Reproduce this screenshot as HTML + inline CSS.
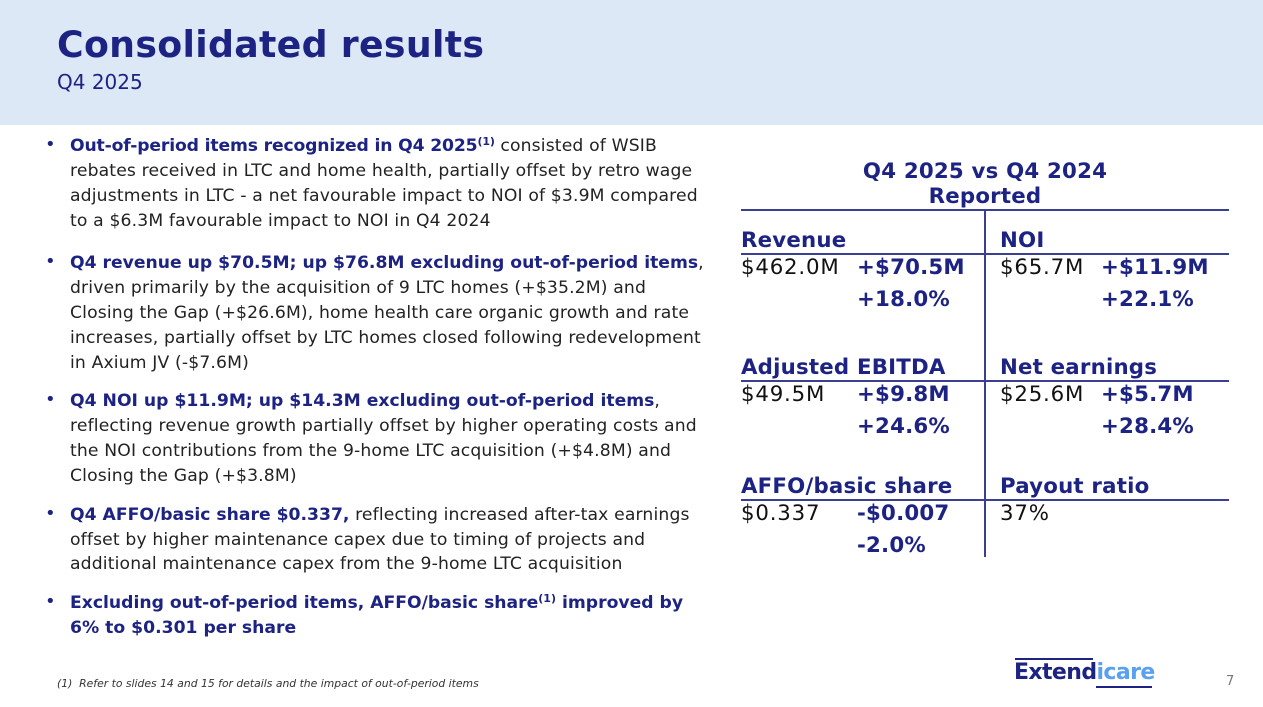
<!DOCTYPE html>
<html><head><meta charset="utf-8"><style>
body{margin:0;width:1263px;height:707px;position:relative;background:#fff;font-family:"DejaVu Sans","Liberation Sans",sans-serif;overflow:hidden}
.hdr{position:absolute;left:0;top:0;width:1263px;height:125px;background:#dde8f6}
.t{position:absolute;left:57px;top:23px;font-size:36.3px;font-weight:bold;color:#1d2382;white-space:nowrap;letter-spacing:0.3px}
.st{position:absolute;left:57px;top:70px;font-size:20px;color:#1d2382}
.l{position:absolute;left:70px;font-size:17.2px;color:#222;white-space:nowrap;line-height:20px;letter-spacing:0.15px}
.b{color:#1d2382;font-weight:bold;letter-spacing:0}
.d{position:absolute;left:45px;font-size:18px;color:#1d2382}
sup{font-size:11px;vertical-align:6px;line-height:0}
.x{position:absolute;font-size:21.3px;white-space:nowrap;line-height:24px;color:#111;letter-spacing:0.8px}
.h{color:#1d2382;font-weight:bold;letter-spacing:0.2px}
.hl{position:absolute;height:2px;background:#3a3f91;left:741px;width:488px}
</style></head><body>
<div class="hdr"></div>
<div class="t">Consolidated results</div>
<div class="st">Q4 2025</div>

<div class="d" style="top:134px">•</div>
<div class="l" style="top:136px"><span class="b" style="letter-spacing:-0.15px">Out-of-period items recognized in Q4 2025<sup>(1)</sup></span> consisted of WSIB</div>
<div class="l" style="top:161px">rebates received in LTC and home health, partially offset by retro wage</div>
<div class="l" style="top:186px">adjustments in LTC - a net favourable impact to NOI of $3.9M compared</div>
<div class="l" style="top:211px">to a $6.3M favourable impact to NOI in Q4 2024</div>

<div class="d" style="top:251px">•</div>
<div class="l" style="top:253px"><span class="b">Q4 revenue up $70.5M; up $76.8M excluding out-of-period items</span>,</div>
<div class="l" style="top:278px">driven primarily by the acquisition of 9 LTC homes (+$35.2M) and</div>
<div class="l" style="top:303px">Closing the Gap (+$26.6M), home health care organic growth and rate</div>
<div class="l" style="top:328px">increases, partially offset by LTC homes closed following redevelopment</div>
<div class="l" style="top:353px">in Axium JV (-$7.6M)</div>

<div class="d" style="top:389px">•</div>
<div class="l" style="top:391px"><span class="b">Q4 NOI up $11.9M; up $14.3M excluding out-of-period items</span>,</div>
<div class="l" style="top:416px">reflecting revenue growth partially offset by higher operating costs and</div>
<div class="l" style="top:441px">the NOI contributions from the 9-home LTC acquisition (+$4.8M) and</div>
<div class="l" style="top:466px">Closing the Gap (+$3.8M)</div>

<div class="d" style="top:503px">•</div>
<div class="l" style="top:505px"><span class="b">Q4 AFFO/basic share $0.337,</span> reflecting increased after-tax earnings</div>
<div class="l" style="top:530px">offset by higher maintenance capex due to timing of projects and</div>
<div class="l" style="top:554px">additional maintenance capex from the 9-home LTC acquisition</div>

<div class="d" style="top:591px">•</div>
<div class="l" style="top:593px"><span class="b">Excluding out-of-period items, AFFO/basic share<sup>(1)</sup> improved by</span></div>
<div class="l b" style="top:618px">6% to $0.301 per share</div>

<div style="position:absolute;left:57px;top:677px;font-size:10.8px;font-style:italic;color:#333;white-space:nowrap">(1)&nbsp; Refer to slides 14 and 15 for details and the impact of out-of-period items</div>

<div class="x h" style="left:741px;width:488px;text-align:center;top:160px">Q4 2025 vs Q4 2024</div>
<div class="x h" style="left:741px;width:488px;text-align:center;top:185px">Reported</div>
<div class="hl" style="top:209px"></div>
<div style="position:absolute;left:984px;top:209px;width:2px;height:348px;background:#3a3f91"></div>
<div class="hl" style="top:253px"></div>
<div class="hl" style="top:380px"></div>
<div class="hl" style="top:499px"></div>

<div class="x h" style="left:741px;top:229px">Revenue</div>
<div class="x h" style="left:1000px;top:229px">NOI</div>
<div class="x" style="left:741px;top:256px">$462.0M</div>
<div class="x h" style="left:857px;top:256px">+$70.5M</div>
<div class="x h" style="left:857px;top:288px">+18.0%</div>
<div class="x" style="left:1000px;top:256px">$65.7M</div>
<div class="x h" style="left:1101px;top:256px">+$11.9M</div>
<div class="x h" style="left:1101px;top:288px">+22.1%</div>

<div class="x h" style="left:741px;top:356px">Adjusted EBITDA</div>
<div class="x h" style="left:1000px;top:356px">Net earnings</div>
<div class="x" style="left:741px;top:383px">$49.5M</div>
<div class="x h" style="left:857px;top:383px">+$9.8M</div>
<div class="x h" style="left:857px;top:415px">+24.6%</div>
<div class="x" style="left:1000px;top:383px">$25.6M</div>
<div class="x h" style="left:1101px;top:383px">+$5.7M</div>
<div class="x h" style="left:1101px;top:415px">+28.4%</div>

<div class="x h" style="left:741px;top:475px">AFFO/basic share</div>
<div class="x h" style="left:1000px;top:475px">Payout ratio</div>
<div class="x" style="left:741px;top:502px">$0.337</div>
<div class="x h" style="left:857px;top:502px">-$0.007</div>
<div class="x h" style="left:857px;top:534px">-2.0%</div>
<div class="x" style="left:1000px;top:502px">37%</div>

<div style="position:absolute;left:1015px;top:658px;width:78px;height:2px;background:#1d2382"></div>
<div style="position:absolute;left:1014px;top:660px;font-size:22px;font-weight:bold;white-space:nowrap;letter-spacing:-0.6px"><span style="color:#1d2382">Extend</span><span style="color:#5aa0f0">icare</span></div>
<div style="position:absolute;left:1096px;top:686px;width:56px;height:2px;background:#1d2382"></div>
<div style="position:absolute;left:1226px;top:674px;font-size:13px;color:#777">7</div>
</body></html>
